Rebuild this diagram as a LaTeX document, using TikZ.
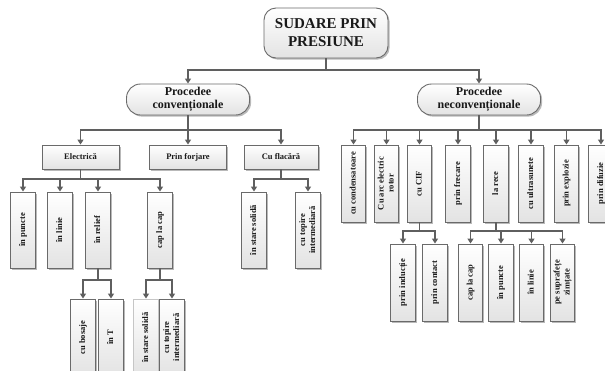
\documentclass[tikz,border=0pt]{standalone}
\usepackage{fontspec}
\usepackage{graphicx}
\setmainfont{Liberation Serif}
\usetikzlibrary{arrows.meta,shadows}
\definecolor{ln}{HTML}{5F5F5F}
\definecolor{bd}{HTML}{6A6A6A}
\newcommand{\vtxt}[1]{\rotatebox{90}{\begin{tabular}{@{}c@{}}#1\end{tabular}}}
\tikzset{
  box/.style={draw=bd, line width=0.9pt, top color=white, bottom color=gray!22,
    drop shadow={shadow xshift=1.6pt, shadow yshift=-1.6pt, fill=gray!55, opacity=1},
    inner sep=0pt, text=black!90, font=\bfseries\fontsize{8.5}{10}\selectfont, align=center},
  topbox/.style={box, rounded corners=12pt, minimum width=124pt, minimum height=50pt,
    font=\bfseries\fontsize{15}{18}\selectfont},
  midbox/.style={box, rounded corners=14pt, minimum width=123pt, minimum height=31pt,
    font=\bfseries\fontsize{12}{13.5}\selectfont},
  hbox/.style={box, minimum width=77pt, minimum height=24pt},
  vbox/.style={box, minimum width=24.5pt, minimum height=77pt},
  conn/.style={draw=ln, line width=1.3pt, -{Triangle[width=6pt,length=5pt]}}
}
\begin{document}
\begin{tikzpicture}[x=1pt,y=-1pt]
\fill[white] (0,0) rectangle (605,370);
\useasboundingbox (0,0) rectangle (605,370);
% bus levels
\coordinate (b0) at (0,70);
\coordinate (b1) at (0,130);
\coordinate (b2) at (0,179);
\coordinate (b3) at (0,280);
\coordinate (b4) at (0,231);
% level 0 and 1
\node[topbox] (top) at (326,33) {SUDARE PRIN\\PRESIUNE};
\node[midbox] (conv) at (188,99.5) {Procedee\\convenționale};
\node[midbox] (nconv) at (479,99.5) {Procedee\\neconvenționale};
% level 2 left
\node[hbox] (el) at (80.5,157) {Electrică};
\node[hbox] (pf) at (188,157) {Prin forjare};
\node[hbox, minimum width=74pt] (fl) at (281,157) {Cu flacără};
% level 3 left
\node[vbox, minimum height=76pt] (p1) at (23,230) {\vtxt{în puncte}};
\node[vbox, minimum height=76pt] (p2) at (60,230) {\vtxt{în linie}};
\node[vbox, minimum height=76pt] (p3) at (98,230) {\vtxt{în relief}};
\node[vbox, minimum height=76pt] (p4) at (160,230) {\vtxt{cap la cap}};
\node[vbox, minimum height=76pt] (f1) at (254,230) {\vtxt{în stare solidă}};
\node[vbox, minimum height=76pt] (f2) at (308,230) {\vtxt{cu topire\\intermediară}};
% level 4 left
\node[vbox] (r1) at (83,337.5) {\vtxt{cu bosaje}};
\node[vbox] (r2) at (111,337.5) {\vtxt{în T}};
\node[vbox, draw=gray!45] (c1) at (146,337.5) {\vtxt{în stare solidă}};
\node[vbox] (c2) at (172,337.5) {\vtxt{cu topire\\intermediară}};
% level 2 right
\node[vbox] (n1) at (353.5,183.5) {\vtxt{cu condensatoare}};
\node[vbox] (n2) at (386.5,183.5) {\vtxt{Cu arc electric\\rotor}};
\node[vbox] (n3) at (419.5,183.5) {\vtxt{cu CIF}};
\node[vbox] (n4) at (458,183.5) {\vtxt{prin frecare}};
\node[vbox] (n5) at (496,183.5) {\vtxt{la rece}};
\node[vbox] (n6) at (531,183.5) {\vtxt{cu ultrasunete}};
\node[vbox] (n7) at (566.5,183.5) {\vtxt{prin explozie}};
\node[vbox] (n8) at (601,183.5) {\vtxt{prin difuzie}};
% level 3 right
\node[vbox] (i1) at (403,282.5) {\vtxt{prin inducție}};
\node[vbox] (i2) at (435,282.5) {\vtxt{prin contact}};
\node[vbox] (l1) at (470.5,282.5) {\vtxt{cap la cap}};
\node[vbox] (l2) at (501,282.5) {\vtxt{în puncte}};
\node[vbox] (l3) at (531.5,282.5) {\vtxt{în linie}};
\node[vbox] (l4) at (562.5,282.5) {\vtxt{pe suprafețe\\zimțate}};
% connectors
\foreach \c in {conv,nconv} \draw[conn] (top) -- (top|-b0) -| (\c);
\foreach \c in {el,pf,fl} \draw[conn] (conv) -- (conv|-b1) -| (\c);
\foreach \c in {n1,n2,n3,n4,n5,n6,n7,n8} \draw[conn] (nconv) -- (nconv|-b1) -| (\c);
\foreach \c in {p1,p2,p3,p4} \draw[conn] (el) -- (el|-b2) -| (\c);
\foreach \c in {f1,f2} \draw[conn] (fl) -- (fl|-b2) -| (\c);
\foreach \c in {r1,r2} \draw[conn] (p3) -- (p3|-b3) -| (\c);
\foreach \c in {c1,c2} \draw[conn] (p4) -- (p4|-b3) -| (\c);
\foreach \c in {i1,i2} \draw[conn] (n3) -- (n3|-b4) -| (\c);
\foreach \c in {l1,l2,l3,l4} \draw[conn] (n5) -- (n5|-b4) -| (\c);
\end{tikzpicture}
\end{document}
